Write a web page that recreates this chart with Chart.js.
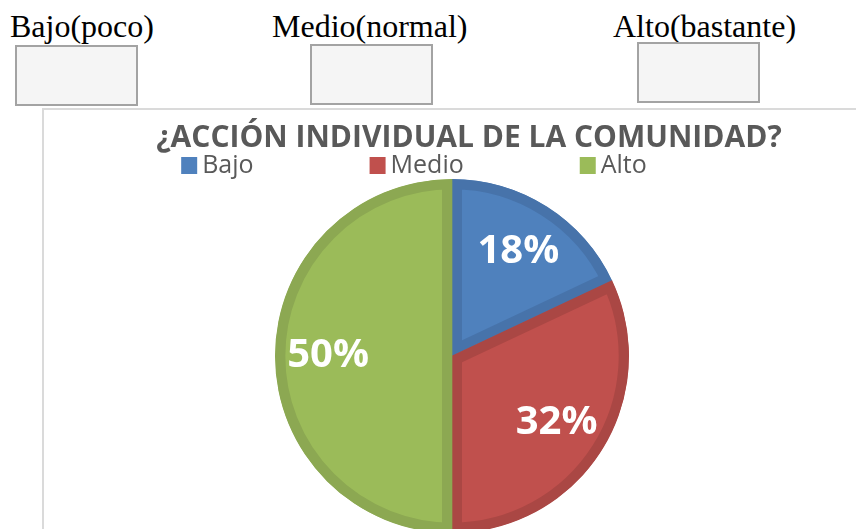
<!DOCTYPE html>
<html>
<head>
<meta charset="utf-8">
<script src="https://cdn.jsdelivr.net/npm/chart.js@4/dist/chart.umd.min.js"></script>
<style>
    html, body { margin: 0; padding: 0; width: 856px; height: 529px; overflow: hidden; background: #fff; }
    .opt   { position: absolute; font-family: "Liberation Serif", "Times New Roman", serif; font-size: 32px; line-height: 1; color: #000; }
    .box   { position: absolute; width: 123px; height: 61px; box-sizing: border-box; border: 2px solid #a3a3a3; background: #f5f5f5; }
    .frame { position: absolute; left: 42px; top: 108px; width: 900px; height: 500px; border-left: 2px solid #dadada; border-top: 2px solid #dadada; }
    .wrap  { position: absolute; left: 44px; top: 110px; width: 816px; height: 423px; }
</style>
</head>
<body>
<div class="opt" style="left:10px; top:10px;">Bajo(poco)</div>
<div class="opt" style="left:272px; top:10px;">Medio(normal)</div>
<div class="opt" style="left:613px; top:10px;">Alto(bastante)</div>
<div class="box" style="left:15px; top:45px;"></div>
<div class="box" style="left:310px; top:44px;"></div>
<div class="box" style="left:637px; top:42px;"></div>
<div class="frame"></div>
<div class="wrap"><canvas id="pieChart"></canvas></div>

<script>
const chartTitle   = '¿ACCIÓN INDIVIDUAL DE LA COMUNIDAD?';
const categories   = ['Bajo', 'Medio', 'Alto'];
const percentages  = [18, 32, 50];
const fillColors   = ['#4f81bd', '#c0504d', '#9bbb59'];
const borderColors = ['#4773aa', '#aa4744', '#8ca852'];

const FONT = '"Open Sans", "DejaVu Sans", sans-serif';

// ─── Plugins ───────────────────────────────

// title + legend row above the pie (the original sits a bit off-centre)
const headerRow = {
    id: 'headerRow',
    afterDraw(chart, args, opts) {
        const { ctx } = chart;
        const colors = chart.data.datasets[0].backgroundColor;
        const top    = chart.chartArea.top;
        ctx.save();

        ctx.font = `bold ${opts.titleSize}px ${FONT}`;
        ctx.fillStyle = opts.color;
        ctx.textAlign = 'center';
        ctx.textBaseline = 'alphabetic';
        ctx.fillText(opts.title, chart.width / 2 + opts.titleShift, top - opts.titleOffset);

        ctx.font = `${opts.size}px ${FONT}`;
        ctx.textAlign = 'left';
        ctx.textBaseline = 'middle';
        const widths = chart.data.labels.map(l => opts.box + opts.gap + ctx.measureText(l).width);
        const total  = widths.reduce((a, b) => a + b, 0) + opts.spacing * (widths.length - 1);
        let x = (chart.width - total) / 2 + opts.shiftX;
        const y = top - opts.offset;

        chart.data.labels.forEach((label, i) => {
            ctx.fillStyle = colors[i];
            ctx.fillRect(x, y - opts.box / 2, opts.box, opts.box + 1);
            ctx.fillStyle = opts.color;
            ctx.fillText(label, x + opts.box + opts.gap, y + 1);
            x += widths[i] + opts.spacing;
        });
        ctx.restore();
    }
};

// percent labels inside the slices
const sliceLabels = {
    id: 'sliceLabels',
    afterDatasetsDraw(chart, args, opts) {
        const { ctx } = chart;
        const meta = chart.getDatasetMeta(0);
        ctx.save();
        ctx.font = `bold ${opts.size}px ${FONT}`;
        ctx.fillStyle = '#fff';
        ctx.textAlign = 'center';
        ctx.textBaseline = 'middle';
        meta.data.forEach((arc, i) => {
            const { x, y, startAngle, endAngle, outerRadius } = arc.getProps(['x', 'y', 'startAngle', 'endAngle', 'outerRadius'], true);
            const mid = (startAngle + endAngle) / 2;
            const r   = outerRadius * opts.factor;
            ctx.fillText(chart.data.datasets[0].data[i] + '%', x + Math.cos(mid) * r, y + Math.sin(mid) * r);
        });
        ctx.restore();
    }
};

// ─── Chart ─────────────────────────────────

new Chart(document.getElementById('pieChart').getContext('2d'), {
    type: 'pie',
    data: {
        labels: categories,
        datasets: [{
            data: percentages,
            backgroundColor: fillColors,
            borderColor: borderColors,
            borderWidth: 10,
            borderAlign: 'inner',
            borderJoinStyle: 'miter'
        }]
    },
    options: {
        responsive: true,
        maintainAspectRatio: false,
        animation: false,
        events: [],
        layout: { padding: { top: 69 } },
        plugins: {
            legend: { display: false },
            tooltip: { enabled: false },
            title: { display: false },
            headerRow: {
                title: chartTitle, titleSize: 30, titleShift: 17, titleOffset: 32,
                size: 25, box: 16, gap: 5, spacing: 116, shiftX: -38, offset: 14, color: '#595959'
            },
            sliceLabels: { size: 40, factor: 0.7 }
        }
    },
    plugins: [headerRow, sliceLabels]
});
</script>
</body>
</html>
